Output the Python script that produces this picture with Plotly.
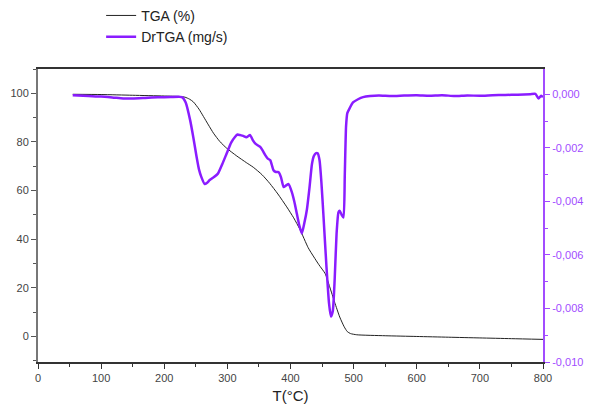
import plotly.graph_objects as go

# TGA (%) vs temperature
tga_T = [55, 100, 150, 200, 225, 233, 240, 246, 255, 262, 270, 278, 288, 299, 315, 330, 341,
         355, 367, 380, 394, 405, 415, 428, 437, 445, 455, 462, 470, 478, 485, 490, 495, 505,
         550, 600, 650, 700, 750, 800]
tga_val = [99.6, 99.5, 99.2, 98.9, 98.7, 98.4, 97.6, 96.5, 93.5, 90.5, 87.0, 83.6, 80.2, 77.4,
           74.2, 71.5, 69.6, 66.5, 63.0, 58.6, 53.3, 48.8, 44.0, 36.5, 32.7, 29.5, 25.8, 20.5,
           14.0, 8.0, 4.0, 2.0, 1.2, 0.7, 0.3, 0.0, -0.3, -0.6, -0.9, -1.2]

# DrTGA (mg/s) vs temperature
dr_T = [55, 80, 100, 120, 135, 150, 170, 190, 210, 228, 234, 241, 246, 251, 255, 259, 264, 268,
        272, 278, 285, 292, 299, 306, 312, 316, 320, 325, 330, 336, 340, 344, 348, 352, 356, 360,
        364, 368, 373, 377, 381, 385, 389, 393, 397, 402, 406, 410, 414, 418, 422, 426, 430, 434,
        437, 440, 443, 446, 449, 452, 457, 461, 464, 467, 470, 473, 476, 478, 481, 484, 486, 488,
        490, 494, 499, 507, 515, 526, 540, 560, 580, 600, 620, 640, 660, 680, 700, 720, 740, 760,
        780, 788, 793, 797, 800]
dr_val = [-0.00003, -0.00006, -0.00008, -0.00012, -0.00015, -0.00015, -0.00013, -0.00011,
          -0.0001, -0.0001, -0.0003, -0.00096, -0.0016, -0.0023, -0.0028, -0.0031, -0.00335,
          -0.0033, -0.0032, -0.0031, -0.00296, -0.0026, -0.0022, -0.0018, -0.00159, -0.0015,
          -0.00152, -0.00155, -0.0016, -0.00152, -0.0017, -0.00183, -0.0019, -0.00196, -0.0021,
          -0.00227, -0.0024, -0.00246, -0.00283, -0.0029, -0.0029, -0.0031, -0.00346, -0.0034,
          -0.00335, -0.00364, -0.004, -0.00445, -0.0049, -0.0052, -0.0048, -0.0043, -0.0035,
          -0.0026, -0.0023, -0.0022, -0.0022, -0.00246, -0.0033, -0.00445, -0.00645, -0.0078,
          -0.0083, -0.0081, -0.0069, -0.0052, -0.0044, -0.00435, -0.0045, -0.0046, -0.0030,
          -0.0012, -0.0007, -0.0005, -0.0003, -0.00018, -0.0001, -0.00006, -0.00004, -0.00006,
          -0.00004, -0.00003, -0.00005, -0.00003, -0.00006, -0.00004, -0.00005, -0.00003,
          -0.00002, -0.00001, 0.00001, 0.00002, -0.00015, -0.00005, -0.0001]

x_ticks = [0, 100, 200, 300, 400, 500, 600, 700, 800]
y_ticks = [0, 20, 40, 60, 80, 100]
y2_ticks = [0.0, -0.002, -0.004, -0.006, -0.008, -0.010]
y2_labels = ["0,000", "-0,002", "-0,004", "-0,006", "-0,008", "-0,010"]

PURPLE = "#8a1cff"
PURPLE_AX = "#a24cff"
GRAY = "#555555"

fig = go.Figure()
fig.add_trace(go.Scatter(x=tga_T, y=tga_val, mode="lines", name="TGA (%)",
                         line=dict(color="#222222", width=1, shape="spline", smoothing=0.6),
                         yaxis="y"))
fig.add_trace(go.Scatter(x=dr_T, y=dr_val, mode="lines", name="DrTGA (mg/s)",
                         line=dict(color=PURPLE, width=2.5, shape="spline", smoothing=0.5),
                         yaxis="y2"))

fig.update_layout(
    width=590, height=409,
    margin=dict(l=38, r=47, t=69, b=47, autoexpand=False),
    plot_bgcolor="white", paper_bgcolor="white",
    font=dict(family="Liberation Sans, Arial, sans-serif", size=11, color="#444444"),
    showlegend=True,
    legend=dict(x=0.125, y=1.236, xanchor="left", yanchor="top",
                font=dict(size=14, color="#222222"), bgcolor="rgba(0,0,0,0)",
                itemwidth=30, tracegroupgap=0),
    xaxis=dict(range=[0, 800], tickvals=x_ticks, ticks="outside", ticklen=5, tickwidth=1.2,
               tickcolor="#333333", showline=True, linecolor="#333333", linewidth=1.5,
               mirror=True, showgrid=False, zeroline=False,
               minor=dict(dtick=50, ticks="outside", ticklen=3, tickcolor="#333333"),
               title=dict(text="T(°C)", font=dict(size=15, color="#222222"), standoff=8),
               tickfont=dict(size=11, color="#444444")),
    yaxis=dict(range=[-10.5, 110], tickvals=y_ticks, ticks="outside", ticklen=5, tickwidth=1.2,
               tickcolor=GRAY, showline=True, linecolor="#777777", linewidth=2,
               showgrid=False, zeroline=False,
               minor=dict(dtick=10, ticks="outside", ticklen=3, tickcolor=GRAY),
               tickfont=dict(size=11, color="#444444")),
    yaxis2=dict(range=[-0.010, 0.00095], overlaying="y", side="right",
                tickvals=y2_ticks, ticktext=y2_labels, ticks="outside", ticklen=5,
                tickwidth=1.2, tickcolor=PURPLE_AX, showline=True, linecolor=PURPLE_AX,
                linewidth=2, showgrid=False, zeroline=False,
                minor=dict(dtick=0.001, ticks="outside", ticklen=3, tickcolor=PURPLE_AX),
                tickfont=dict(size=11, color=PURPLE_AX)),
)

fig.write_html("out.html")
